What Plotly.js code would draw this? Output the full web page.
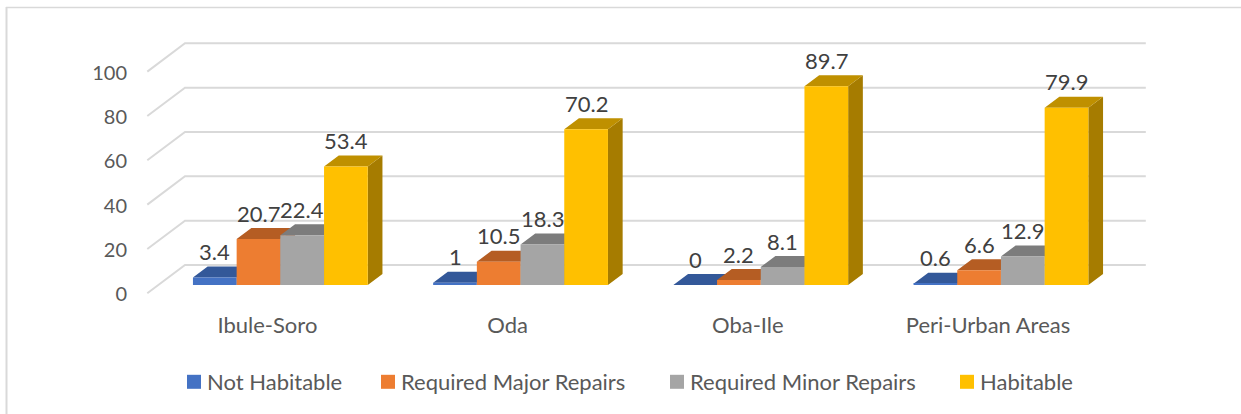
<!DOCTYPE html>
<html>
<head>
<meta charset="utf-8">
<script src="https://cdn.plot.ly/plotly-3.0.1.min.js"></script>
<style>
html,body{margin:0;padding:0;background:#fff}
/* legend swatches sit tight against their text in the reference */
.legendpoints path{transform:translate(27px,0) scale(1.1667)}
</style>
</head>
<body>
<div id="chart" style="width:1241px;height:414px"></div>
<script>
const categories = ["Ibule-Soro", "Oda", "Oba-Ile", "Peri-Urban Areas"];
const seriesNames = ["Not Habitable", "Required Major Repairs", "Required Minor Repairs", "Habitable"];
const notHabitable = [3.4, 1, 0, 0.6];
const majorRepairs = [20.7, 10.5, 2.2, 6.6];
const minorRepairs = [22.4, 18.3, 8.1, 12.9];
const habitable = [53.4, 70.2, 89.7, 79.9];
const yTicks = [0, 20, 40, 60, 80, 100];
const frontColors = ["#4472C4", "#ED7D31", "#A5A5A5", "#FFC000"];
const topColors = ["#335899", "#B55D23", "#7C7C7C", "#BF9000"];
const sideColors = ["#2C4C85", "#A04F1E", "#6B6B6B", "#A67C00"];
const legendTextPx = [207, 401, 690, 980];

const W = 1241, H = 414;
const L = 128, R = 1200, T = 20, B = 312;
const plotW = R - L, plotH = B - T;
const period = 240.2, pxPerUnit = 2.217;
// front plane of the floor, back wall and the plane of the bars' front faces
const frontCat0 = 267.4, frontZero = 293.3;
const barCat0 = 280.35, barZero = 285;
const wallDx = 37.7, wallDy = 28.3;
const barDepthDx = 14.7, barDepthDy = 11;
const barWidth = 43.7 / period;

const values = [notHabitable, majorRepairs, minorRepairs, habitable];
const paperX = px => (px - L) / plotW;
const paperY = py => (B - py) / plotH;
const xRange = c0 => [(L - c0) / period, (R - c0) / period];
const yRange = z0 => [(z0 - B) / pxPerUnit, (z0 - T) / pxPerUnit];

const fontFamily = "Lato, 'Open Sans', sans-serif";
const traces = [];

// gridlines: floor-to-wall diagonal then along the back wall
const gx = [], gy = [];
const wallCatDx = wallDx / period, wallUnitDy = wallDy / pxPerUnit;
yTicks.forEach(v => {
  gx.push(-0.5, -0.5 + wallCatDx, categories.length - 0.5 + wallCatDx, null);
  gy.push(v, v + wallUnitDy, v + wallUnitDy, null);
});
traces.push({type: "scatter", mode: "lines", x: gx, y: gy, xaxis: "x", yaxis: "y",
  line: {color: "#D9D9D9", width: 2}, showlegend: false, hoverinfo: "skip"});

// depth faces, drawn on the main subplot below the front faces
const shiftX = (barCat0 - frontCat0) / period, shiftY = (frontZero - barZero) / pxPerUnit;
const depthX = barDepthDx / period, depthY = barDepthDy / pxPerUnit;
values.forEach((vals, s) => {
  const sx = [], sy = [], tx = [], ty = [];
  vals.forEach((v, c) => {
    const l = c + shiftX + (s - 2) * barWidth, r = l + barWidth, b = shiftY, t = v + shiftY;
    sx.push(r, r, r + depthX, r + depthX, r, null);
    sy.push(b, t, t + depthY, b + depthY, b, null);
    tx.push(l, r, r + depthX, l + depthX, l, null);
    ty.push(t, t, t + depthY, t + depthY, t, null);
  });
  traces.push({type: "scatter", mode: "lines", x: sx, y: sy, fill: "toself", fillcolor: sideColors[s],
    line: {width: 0, color: sideColors[s]}, showlegend: false, hoverinfo: "skip"});
  traces.push({type: "scatter", mode: "lines", x: tx, y: ty, fill: "toself", fillcolor: topColors[s],
    line: {width: 0, color: topColors[s]}, showlegend: false, hoverinfo: "skip"});
});

// front faces
values.forEach((vals, s) => {
  traces.push({type: "bar", name: seriesNames[s], x: categories, y: vals, xaxis: "x2", yaxis: "y2",
    marker: {color: frontColors[s], line: {width: 0}}, hoverinfo: "x+y+name",
    legend: s === 0 ? "legend" : "legend" + (s + 1)});
});

const annotations = [];
values.forEach((vals, s) => vals.forEach((v, c) => {
  annotations.push({xref: "x2", yref: "y2", x: c + (s - 1.5) * barWidth, y: v, yshift: 26,
    xanchor: "center", yanchor: "middle", text: String(v), showarrow: false,
    font: {family: fontFamily, size: 22, color: "#404040"}});
}));

const legendFor = px => ({xref: "container", yref: "container",
  x: (px - 40) / W, xanchor: "left", y: 1 - 382 / H, yanchor: "middle",
  orientation: "h", bgcolor: "rgba(0,0,0,0)", borderwidth: 0,
  font: {family: fontFamily, size: 22, color: "#595959"}});

const layout = {
  width: W, height: H, paper_bgcolor: "#fff", plot_bgcolor: "rgba(0,0,0,0)",
  margin: {l: L, r: W - R, t: T, b: H - B, pad: 0},
  barmode: "group", bargap: 1 - barWidth * 4, bargroupgap: 0,
  showlegend: true,
  xaxis: {type: "linear", range: xRange(frontCat0), tickmode: "array",
    tickvals: categories.map((_, i) => i), ticktext: categories,
    showgrid: false, zeroline: false, showline: false, ticks: "", ticklabelstandoff: -2,
    tickfont: {family: fontFamily, size: 22, color: "#595959"}, fixedrange: true},
  yaxis: {range: yRange(frontZero), tickmode: "array", tickvals: yTicks,
    showgrid: false, zeroline: false, showline: false, ticks: "", ticklabelshift: 1,
    tickfont: {family: fontFamily, size: 20, color: "#595959"}, fixedrange: true},
  xaxis2: {type: "category", categoryorder: "array", categoryarray: categories,
    overlaying: "x", anchor: "y2", range: xRange(barCat0), visible: false, fixedrange: true},
  yaxis2: {overlaying: "y", anchor: "x2", side: "left", range: yRange(barZero), visible: false, fixedrange: true},
  legend: legendFor(legendTextPx[0]),
  legend2: legendFor(legendTextPx[1]),
  legend3: legendFor(legendTextPx[2]),
  legend4: legendFor(legendTextPx[3]),
  annotations: annotations,
  shapes: [
    {type: "line", xref: "paper", yref: "paper", x0: paperX(6.5), x1: paperX(6.5), y0: paperY(7), y1: paperY(H),
     line: {color: "#D9D9D9", width: 2}},
    {type: "line", xref: "paper", yref: "paper", x0: paperX(6), x1: paperX(W), y0: paperY(7.5), y1: paperY(7.5),
     line: {color: "#D9D9D9", width: 1.5}}
  ]
};
Plotly.newPlot("chart", traces, layout, {displayModeBar: false, responsive: false});
</script>
</body>
</html>
